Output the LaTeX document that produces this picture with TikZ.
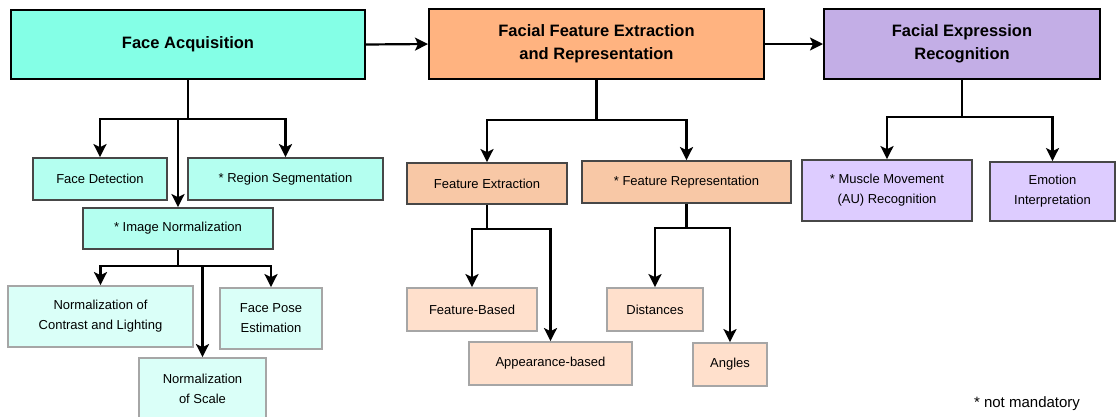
\documentclass[tikz,border=0pt]{standalone}
\usepackage{fontspec}
\setmainfont{Liberation Sans}
\usepackage{tikz}
\usetikzlibrary{arrows.meta,positioning}
\usepackage{xcolor}
\definecolor{acqtop}{RGB}{132,255,230}
\definecolor{acqmid}{RGB}{180,255,240}
\definecolor{acqlow}{RGB}{218,255,248}
\definecolor{feattop}{RGB}{255,179,128}
\definecolor{featmid}{RGB}{248,200,166}
\definecolor{featlow}{RGB}{255,224,204}
\definecolor{rectop}{RGB}{195,174,230}
\definecolor{recmid}{RGB}{221,204,255}
\tikzset{
  stage/.style={
    draw=black,
    rectangle,
    inner sep=0pt,
    line width=2pt,
    align=center,
    font=\fontsize{16.5}{23}\selectfont\bfseries,
  },
  substage/.style={
    draw=black!72,
    rectangle,
    inner sep=0pt,
    line width=1.8pt,
    align=center,
    font=\fontsize{13}{20}\selectfont,
  },
  leafstage/.style={
    draw=black!35,
    rectangle,
    inner sep=0pt,
    line width=1.8pt,
    align=center,
    font=\fontsize{13}{20}\selectfont,
  },
  link/.style={line width=2.2pt},
  arr/.style={line width=2.2pt, -{Stealth[length=13pt,width=13pt,inset=3pt]}},
}

\begin{document}
\begin{tikzpicture}[x=1pt,y=-1pt]
  \fill[white] (0,0) rectangle (1116,416);
  \useasboundingbox (0,0) rectangle (1116,416);

  % main stages
  \node[stage, fill=acqtop, minimum width=354pt, minimum height=69pt] (FA) at (188,44.5) {Face Acquisition};
  \node[stage, fill=feattop, minimum width=335pt, minimum height=70pt] (FFE) at (596.5,44) {Facial Feature Extraction\\and Representation};
  \node[stage, fill=rectop, minimum width=276pt, minimum height=70pt] (FER) at (962,44) {Facial Expression\\Recognition};
  \draw[arr] (FA.east) -- (FFE.west);
  \draw[arr] (FFE.east) -- (FER.west |- FFE.east);

  % face acquisition
  \node[substage, fill=acqmid, minimum width=134pt, minimum height=42pt] (FD) at (100,179) {Face Detection};
  \node[substage, fill=acqmid, minimum width=195pt, minimum height=42pt] (RS) at (285.5,179) {* Region Segmentation};
  \node[substage, fill=acqmid, minimum width=190pt, minimum height=41pt] (IN) at (178,228.5) {* Image Normalization};
  \node[leafstage, fill=acqlow, minimum width=185pt, minimum height=61pt] (NC) at (100.5,316.5) {Normalization of\\Contrast and Lighting};
  \node[leafstage, fill=acqlow, minimum width=102pt, minimum height=61pt] (FP) at (271,318.5) {Face Pose\\Estimation};
  \node[leafstage, fill=acqlow, minimum width=127pt, minimum height=62pt] (NS) at (202.5,389) {Normalization\\of Scale};

  \coordinate (jFA) at (FA.south |- 0,119);
  \draw[link] (FA.south) -- (jFA);
  \foreach \c in {FD,RS} {
    \draw[arr] (jFA) -| (\c.north);
  }
  \draw[arr] (IN.north |- jFA) -- (IN.north);

  \coordinate (jIN) at (IN.south |- 0,266);
  \draw[link] (IN.south) -- (jIN);
  \foreach \c in {NC,NS,FP} {
    \draw[arr] (jIN) -| (\c.north);
  }

  % feature extraction and representation
  \node[substage, fill=featmid, minimum width=160pt, minimum height=41pt] (FE) at (487,183.5) {Feature Extraction};
  \node[substage, fill=featmid, minimum width=209pt, minimum height=42pt] (FR) at (686.5,182) {* Feature Representation};
  \node[leafstage, fill=featlow, minimum width=130pt, minimum height=43pt] (FB) at (472,309.5) {Feature-Based};
  \node[leafstage, fill=featlow, minimum width=163pt, minimum height=43pt] (AB) at (550.5,363.5) {Appearance-based};
  \node[leafstage, fill=featlow, minimum width=96pt, minimum height=43pt] (DI) at (655,309.5) {Distances};
  \node[leafstage, fill=featlow, minimum width=74pt, minimum height=43pt] (AN) at (730,364.5) {Angles};

  \coordinate (jFFE) at (FFE.south |- 0,120);
  \draw[link] (FFE.south) -- (jFFE);
  \draw[arr] (jFFE) -| (FE.north);
  \draw[arr] (jFFE) -| (FR.north);

  \coordinate (jFE) at (FE.south |- 0,229);
  \draw[link] (FE.south) -- (jFE);
  \draw[arr] (jFE) -| (FB.north);
  \draw[arr] (jFE) -| (AB.north);

  \coordinate (jFR) at (FR.south |- 0,228);
  \draw[link] (FR.south) -- (jFR);
  \draw[arr] (jFR) -| (DI.north);
  \draw[arr] (jFR) -| (AN.north);

  % expression recognition
  \node[substage, fill=recmid, minimum width=170pt, minimum height=61pt] (MM) at (887,190.5) {* Muscle Movement\\(AU) Recognition};
  \node[substage, fill=recmid, minimum width=125pt, minimum height=59pt] (EI) at (1052.5,191.5) {Emotion\\Interpretation};

  \coordinate (jFER) at (FER.south |- 0,117);
  \draw[link] (FER.south) -- (jFER);
  \draw[arr] (jFER) -| (MM.north);
  \draw[arr] (jFER) -| (EI.north);

  \node[font=\fontsize{15}{18}\selectfont] (note) at (1027,404) {* not mandatory};
\end{tikzpicture}
\end{document}
